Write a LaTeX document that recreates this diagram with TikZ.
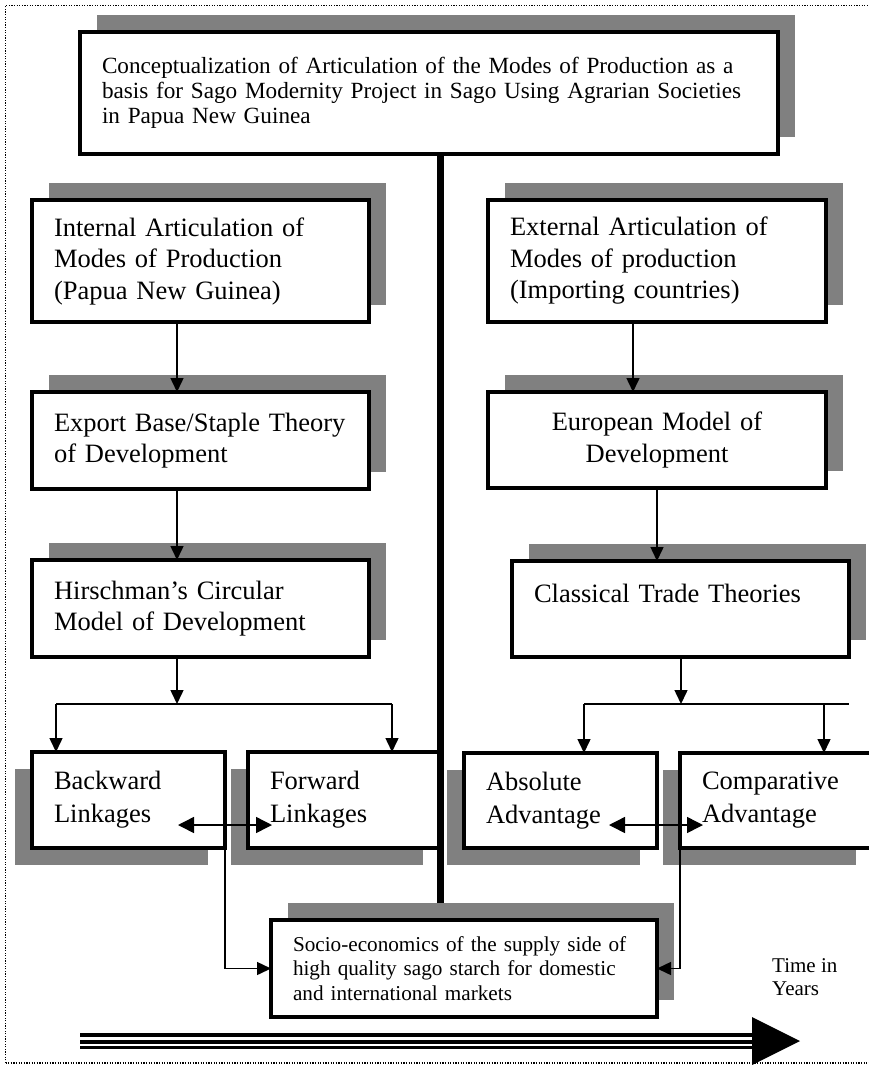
\documentclass[tikz,border=0pt]{standalone}
\usepackage{fontspec}
\setmainfont{Liberation Serif}
\usetikzlibrary{arrows.meta,shadows,calc}
\definecolor{shadowgray}{RGB}{128,128,128}
\begin{document}
\begin{tikzpicture}[x=1pt,y=-1pt,
  box/.style={draw, line width=3.3pt, fill=white, anchor=north west, inner xsep=22pt, inner ysep=0pt, outer sep=0pt, align=left},
  shadowUR/.style={drop shadow={shadow xshift=17pt, shadow yshift=17pt, fill=shadowgray, opacity=1}},
  shadowDL/.style={drop shadow={shadow xshift=-17pt, shadow yshift=-17pt, fill=shadowgray, opacity=1}},
  bigfont/.style={font=\fontsize{23.2}{25}\selectfont},
  midfont/.style={font=\fontsize{26.5}{31.5}\selectfont},
  linkfont/.style={font=\fontsize{26.5}{33}\selectfont},
  smallfont/.style={font=\fontsize{21.2}{24.5}\selectfont},
  arr/.style={line width=1.5pt, -{Triangle[length=14pt,width=13pt]}},
  darr/.style={line width=1.5pt, {Triangle[length=16pt,width=16pt]}-{Triangle[length=16pt,width=16pt]}},
  plain/.style={line width=1.5pt},
  spine/.style={line width=6.5pt},
  border/.style={line width=1.6pt, dash pattern=on 1.3pt off 1.3pt},
]
\useasboundingbox (0,0) rectangle (868,1065);

% dotted frame
\draw[border] (5.5,1063) -- (5.5,5.5) -- (900,5.5);
\draw[border] (5.5,1063) -- (900,1063);

% boxes
\node[box, bigfont, shadowUR, minimum width=698pt, minimum height=122pt, text width=654pt] (top) at (80,32)
  {\hyphenpenalty=10000 Conceptualization of Articulation of the Modes of Production as a\\ basis for Sago Modernity Project in Sago Using Agrarian Societies\\ in Papua New Guinea\\[-19pt]\mbox{}};

\node[box, midfont, shadowUR, minimum width=337pt, minimum height=122pt, text width=293pt] (internal) at (32,200)
  {Internal Articulation of\\ Modes of Production\\ (Papua New Guinea)};
\node[box, midfont, shadowUR, minimum width=337pt, minimum height=97pt, text width=293pt] (export) at (32,392)
  {Export Base/Staple Theory\\ of Development};
\node[box, midfont, shadowUR, minimum width=337pt, minimum height=97pt, text width=293pt] (hirsch) at (32,560)
  {Hirschman’s Circular\\ Model of Development};

\node[box, midfont, shadowUR, minimum width=338pt, minimum height=122pt, text width=294pt] (external) at (488,200)
  {External Articulation of\\ Modes of production\\ (Importing countries)};
\node[box, midfont, shadowUR, minimum width=338pt, minimum height=96pt, text width=294pt, align=center] (european) at (488,392)
  {European Model of\\ Development};
\node[box, midfont, shadowUR, minimum width=337pt, minimum height=96pt, text width=293pt] (classical) at (512,561)
  {Classical Trade Theories\\ \mbox{}};

\node[box, linkfont, shadowDL, minimum width=193pt, minimum height=96pt, text width=149pt] (backward) at (32,752)
  {Backward\\ Linkages};
\node[box, linkfont, shadowDL, minimum width=192pt, minimum height=96pt, text width=148pt] (forward) at (248,752)
  {Forward\\ Linkages};
\node[box, linkfont, shadowDL, minimum width=193pt, minimum height=95pt, text width=149pt] (absolute) at (464,753)
  {Absolute\\ Advantage};
\node[box, linkfont, shadowDL, minimum width=193pt, minimum height=95pt, text width=149pt] (comparative) at (680,753)
  {Comparative\\ Advantage};

\node[box, smallfont, shadowUR, minimum width=386pt, minimum height=97pt, text width=342pt] (socio) at (271,920)
  {Socio-economics of the supply side of\\ high quality sago starch for domestic\\ and international markets};

\node[anchor=north west, inner sep=0pt, align=left, font=\fontsize{21}{23}\selectfont] (time) at (772,958) {Time in\\ Years};

% spine
\coordinate (cx) at (440.5,0);
\draw[spine] (top.south -| cx) -- ($(socio.north -| cx)+(0,-17)$);

% left column connectors
\coordinate (colL) at (177,0);
\draw[arr] (internal.south -| colL) -- (export.north -| colL);
\draw[arr] (export.south -| colL) -- (hirsch.north -| colL);
\coordinate (brL1) at (56,704);
\coordinate (brL2) at (392,704);
\draw[arr] (hirsch.south -| colL) -- (brL1 -| colL);
\draw[plain] (brL1) -- (brL2);
\draw[arr] (brL1) -- (backward.north -| brL1);
\draw[arr] (brL2) -- (forward.north -| brL2);

% right column connectors
\coordinate (colR1) at (633,0);
\coordinate (colR2) at (657,0);
\coordinate (colR3) at (681,0);
\draw[arr] (external.south -| colR1) -- (european.north -| colR1);
\draw[arr] (european.south -| colR2) -- (classical.north -| colR2);
\coordinate (brR1) at (584,704);
\coordinate (brR2) at (849,704);
\coordinate (brR3) at (824,704);
\draw[arr] (classical.south -| colR3) -- (brR1 -| colR3);
\draw[plain] (brR1) -- (brR2);
\draw[arr] (brR1) -- (absolute.north -| brR1);
\draw[arr] (brR3) -- (comparative.north -| brR3);

% double arrows
\coordinate (dl1) at (178,825);
\coordinate (dl2) at (272,825);
\coordinate (dr1) at (609,825);
\coordinate (dr2) at (703,825);
\draw[darr] (dl1) -- (dl2);
\draw[darr] (dr1) -- (dr2);

% to socio box
\draw[arr] (backward.south east) |- (socio.west);
\draw[arr] (comparative.south west) |- (socio.east);

% time arrow
\coordinate (tailA) at (80,1041);
\coordinate (tipA) at (800,1041);
\draw[line width=3.5pt] ($(tailA)+(0,-6)$) -- ($(tipA)+(-47,-6)$);
\draw[line width=4.2pt] ($(tailA)+(0,1)$) -- ($(tipA)+(-47,1)$);
\draw[line width=3.3pt] ($(tailA)+(0,6.8)$) -- ($(tipA)+(-47,6.8)$);
\fill (tipA) -- ($(tipA)+(-48,-24)$) -- ($(tipA)+(-48,24)$) -- cycle;
\end{tikzpicture}
\end{document}
